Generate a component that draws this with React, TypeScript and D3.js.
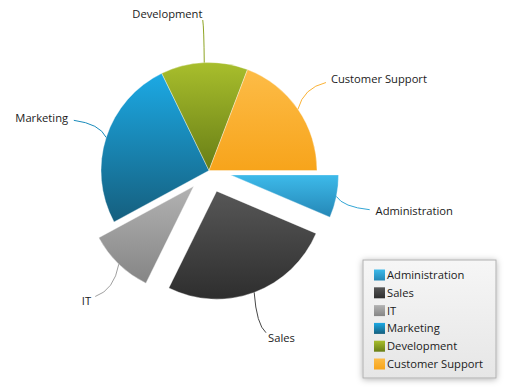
import * as d3 from 'd3';

const categories = ['Administration', 'Sales', 'IT', 'Marketing', 'Development', 'Customer Support'];
const values = [6.4, 25.9, 9.8, 25.7, 13.0, 19.2];
const explodedCategories = ['Administration', 'Sales', 'IT'];

// top / bottom colour of each slice gradient
const palette: Record<string, [string, string]> = {
  Administration: ['#3dbaea', '#2587b6'],
  Sales: ['#575757', '#2e2e2e'],
  IT: ['#b2b2b2', '#858585'],
  Marketing: ['#1ca9e4', '#155f7e'],
  Development: ['#a8be2c', '#687e16'],
  'Customer Support': ['#fdbc47', '#f7a41b'],
};

const W = 506;
const H = 390;
const cx = 209;
const cy = 170.5;
const radius = 108;
const explodeOffset = 22;
// label anchor distance from the (exploded) slice centre
const labelRx = 148;
const labelRy = 150.7;
const labelPad = 5.9;
const connectorGap = 6;
const font = '"Open Sans", sans-serif';

const dir = (a: number) => [Math.sin(a), -Math.cos(a)];

export default function App() {
  const pie = d3
    .pie<number>()
    .sort(null)
    .value((d) => d)
    .startAngle(Math.PI / 2)
    .endAngle(Math.PI / 2 + 2 * Math.PI);
  const arcs = pie(values);
  const arcGen = d3.arc<d3.PieArcDatum<number>>().innerRadius(0).outerRadius(radius);

  const slices = arcs.map((a, i) => {
    const name = categories[i];
    const mid = (a.startAngle + a.endAngle) / 2;
    const [ux, uy] = dir(mid);
    const off = explodedCategories.includes(name) ? explodeOffset : 0;
    const ox = ux * off;
    const oy = uy * off;
    const sx = cx + ox;
    const sy = cy + oy;
    const ax = sx + ux * radius;
    const ay = sy + uy * radius;
    const tx = sx + ux * labelRx;
    const ty = sy + uy * labelRy + Math.sign(uy) * labelPad;
    const ex = tx - ux * connectorGap;
    const ey = ty - uy * connectorGap;
    const qx = ax + (ex - ax) * 0.2;
    const qy = ay + (ey - ay) * 0.8;
    const right = ux > 0;
    return { a, i, name, ox, oy, ax, ay, ex, ey, qx, qy, tx, ty, right };
  });

  const legendX = 363;
  const legendY = 260;
  const rowStep = 17.8;

  return (
    <svg
      width={W}
      height={H}
      style={{ position: 'absolute', left: 0, top: 0, background: '#fff' }}
      fontFamily={font}
      fontSize={11.2}
    >
      <defs>
        {categories.map((c, i) => (
          <linearGradient key={c} id={`grad-${i}`} x1="0" y1="0" x2="0" y2="1">
            <stop offset="0" stopColor={palette[c][0]} />
            <stop offset="1" stopColor={palette[c][1]} />
          </linearGradient>
        ))}
        <linearGradient id="legend-bg" x1="0" y1="0" x2="0" y2="1">
          <stop offset="0" stopColor="#f6f6f6" />
          <stop offset="1" stopColor="#e6e6e6" />
        </linearGradient>
        <filter id="legend-shadow" x="-20%" y="-20%" width="140%" height="140%">
          <feDropShadow dx="0" dy="1" stdDeviation="3" floodColor="#000" floodOpacity="0.3" />
        </filter>
      </defs>

      <g>
        {slices.map((s) => (
          <path
            key={s.name}
            d={arcGen(s.a) ?? ''}
            transform={`translate(${cx + s.ox},${cy + s.oy})`}
            fill={`url(#grad-${s.i})`}
            stroke="#ffffff"
            strokeOpacity={0.6}
            strokeWidth={0.6}
          />
        ))}
      </g>

      <g>
        {slices.map((s) => (
          <g key={s.name}>
            <path
              d={`M${s.ax},${s.ay}Q${s.qx},${s.qy} ${s.ex},${s.ey}`}
              fill="none"
              stroke={d3.interpolateRgb(palette[s.name][0], palette[s.name][1])(0.4)}
              strokeWidth={1}
            />
            <text
              x={s.tx}
              y={s.ty}
              dy="0.35em"
              textAnchor={s.right ? 'start' : 'end'}
              fill="#1b1b1b"
            >
              {s.name}
            </text>
          </g>
        ))}
      </g>

      <g>
        <rect
          x={legendX}
          y={legendY}
          width={133}
          height={118}
          fill="url(#legend-bg)"
          stroke="#b0b0b0"
          strokeWidth={1}
          filter="url(#legend-shadow)"
        />
        {categories.map((c, i) => (
          <g key={c} transform={`translate(${legendX + 11},${legendY + 15 + i * rowStep})`}>
            <rect x={0} y={-5.5} width={11} height={11} fill={`url(#grad-${i})`} />
            <text x={13} y={0} dy="0.35em" fill="#1b1b1b">
              {c}
            </text>
          </g>
        ))}
      </g>
    </svg>
  );
}
